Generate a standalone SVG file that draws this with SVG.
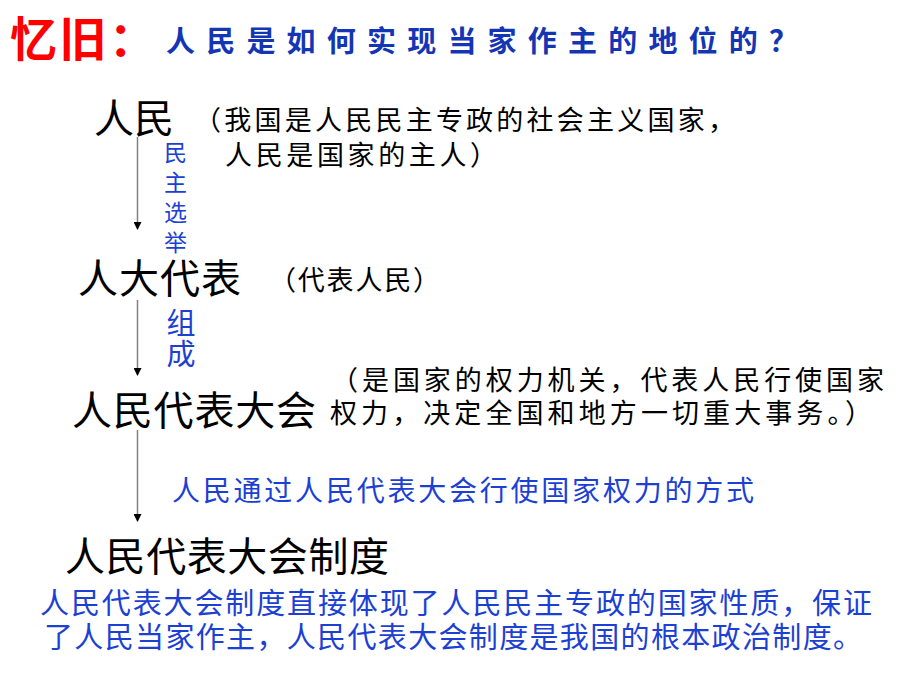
<svg xmlns="http://www.w3.org/2000/svg" width="920" height="690" viewBox="0 0 920 690">
<style>
text{font-family:"Noto Sans CJK SC","Noto Sans",sans-serif;}
.big{font-size:40px;fill:#000;}
.note{font-size:27px;fill:#000;}
.blue{fill:#1c3fd4;}
.vert{writing-mode:vertical-rl;}
.conn{stroke:#808080;stroke-width:1.5;fill:none;marker-end:url(#ah);}
</style>
<defs>
<marker id="ah" markerWidth="8" markerHeight="8" refX="7" refY="4" orient="auto" markerUnits="userSpaceOnUse">
<path d="M0,0 L8,4 L0,8 z" fill="#000"/>
</marker>
</defs>
<rect width="920" height="690" fill="#fff"/>
<g id="title">
<text x="10" y="56" font-size="47" font-weight="bold" fill="#ff0000" textLength="146" lengthAdjust="spacing">忆旧：</text>
<text x="166" y="52" font-size="29" font-weight="bold" fill="#1436b4" textLength="632" lengthAdjust="spacing">人民是如何实现当家作主的地位的？</text>
</g>
<g id="connectors">
<line class="conn" x1="137.5" y1="137" x2="137.5" y2="229"/>
<line class="conn" x1="137.5" y1="300" x2="137.5" y2="375"/>
<line class="conn" x1="137.5" y1="430" x2="137.5" y2="521"/>
</g>
<g id="node-renmin">
<text class="big" x="94" y="133" textLength="80" lengthAdjust="spacing">人民</text>
<text class="note"><tspan x="194" y="130" textLength="541" lengthAdjust="spacing">（我国是人民民主专政的社会主义国家，</tspan><tspan x="225" y="165" textLength="272" lengthAdjust="spacing">人民是国家的主人）</tspan></text>
</g>
<g id="label-xuanju" class="blue">
<text class="vert" x="175.5" y="141" font-size="23" letter-spacing="7">民主选举</text>
</g>
<g id="node-rendadaibiao">
<text class="big" x="78" y="293" textLength="163" lengthAdjust="spacing">人大代表</text>
<text class="note" x="269" y="290" font-size="26" textLength="171" lengthAdjust="spacing">（代表人民）</text>
</g>
<g id="label-zucheng" class="blue">
<text class="vert" x="181" y="308" font-size="29" letter-spacing="2">组成</text>
</g>
<g id="node-renda">
<text class="big" x="72" y="425" textLength="244" lengthAdjust="spacing">人民代表大会</text>
<text class="note"><tspan x="331" y="390" textLength="553" lengthAdjust="spacing">（是国家的权力机关，代表人民行使国家</tspan><tspan x="330" y="423" textLength="542" lengthAdjust="spacing">权力，决定全国和地方一切重大事务。）</tspan></text>
</g>
<g id="label-fangshi" class="blue">
<text x="172" y="501" font-size="28" textLength="582" lengthAdjust="spacing">人民通过人民代表大会行使国家权力的方式</text>
</g>
<g id="node-zhidu">
<text class="big" x="65" y="571" textLength="324" lengthAdjust="spacing">人民代表大会制度</text>
</g>
<g id="summary" class="blue">
<text font-size="29"><tspan x="40" y="614" textLength="832" lengthAdjust="spacing">人民代表大会制度直接体现了人民民主专政的国家性质，保证</tspan><tspan x="44" y="648" textLength="818" lengthAdjust="spacing">了人民当家作主，人民代表大会制度是我国的根本政治制度。</tspan></text>
</g>
</svg>
